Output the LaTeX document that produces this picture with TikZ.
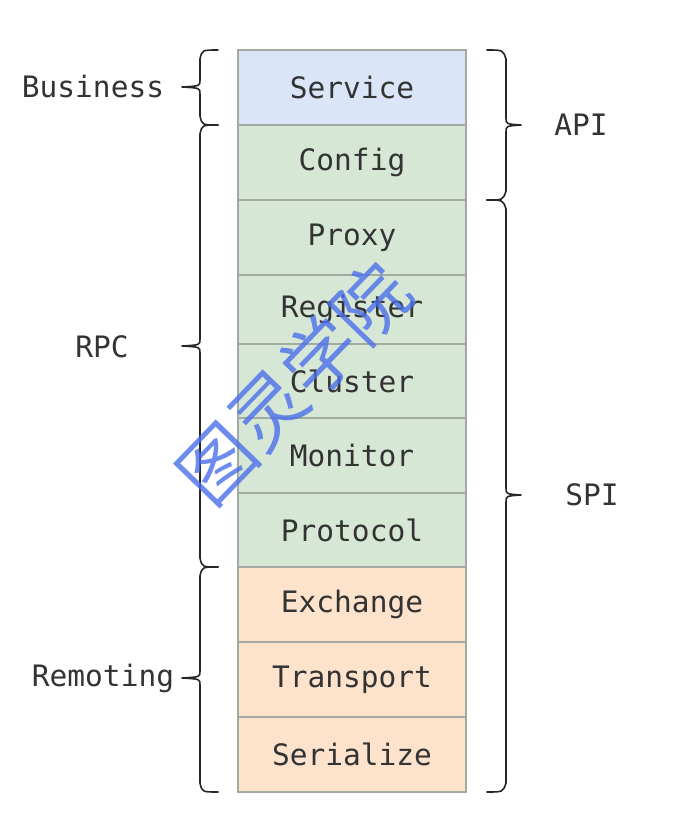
\documentclass[tikz,border=0pt]{standalone}
\usepackage{fontspec}
\setmonofont{DejaVu Sans Mono}
\newfontfamily\cjk{Noto Sans CJK SC}
\usetikzlibrary{calc}
\definecolor{txt}{HTML}{333333}
\definecolor{edge}{HTML}{A3AAA3}
\definecolor{bluefill}{HTML}{DAE6F8}
\definecolor{greenfill}{HTML}{D6E7D5}
\definecolor{orangefill}{HTML}{FDE2CC}
\definecolor{wm}{HTML}{4A6FEA}
\tikzset{
  layer/.style={draw=edge, line width=1.3pt, minimum width=228pt, inner sep=0pt, outer sep=0pt,
    text=txt, font=\ttfamily\fontsize{29.5}{32}\selectfont},
  lab/.style={text=txt, font=\ttfamily\fontsize{29.5}{32}\selectfont, inner sep=0pt},
  bracepath/.style={draw=black!85, line width=1.6pt, line cap=round, line join=round},
}
\begin{document}
\begin{tikzpicture}[x=1pt, y=-1pt]
\useasboundingbox (0,0) rectangle (678,824);
% layers
\node[layer, fill=bluefill, minimum height=75pt] (service) at (352,87.5) {Service};
\node[layer, fill=greenfill, minimum height=75pt] (config) at (352,162.5) {Config};
\node[layer, fill=greenfill, minimum height=75pt] (proxy) at (352,237.5) {Proxy};
\node[layer, fill=greenfill, minimum height=69pt] (register) at (352,309.5) {Register};
\node[layer, fill=greenfill, minimum height=74pt] (cluster) at (352,381) {Cluster};
\node[layer, fill=greenfill, minimum height=75pt] (monitor) at (352,455.5) {Monitor};
\node[layer, fill=greenfill, minimum height=74pt] (protocol) at (352,530) {Protocol};
\node[layer, fill=orangefill, minimum height=75pt] (exchange) at (352,604.5) {Exchange};
\node[layer, fill=orangefill, minimum height=75pt] (transport) at (352,679.5) {Transport};
\node[layer, fill=orangefill, minimum height=75pt] (serialize) at (352,754.5) {Serialize};
% labels
\node[lab] (business) at (93,87) {Business};
\node[lab] (rpc) at (102,347) {RPC};
\node[lab] (remoting) at (103,678) {Remoting};
\node[lab] (api) at (581,125) {API};
\node[lab] (spi) at (592,495) {SPI};
% left braces: ends at x=218, spine x=200, tip x=182
\foreach \t/\b/\m/\n in {service/service/87/bbus, config/protocol/346/brpc, exchange/serialize/678/brem}{
  \coordinate (\n-t) at ($(\t.north west)+(-20,0)$);
  \coordinate (\n-b) at ($(\b.south west)+(-20,0)$);
  \coordinate (\n-tip) at (182,\m);
  \path[bracepath] (\n-t) .. controls ($(\n-t)+(-16,0)$) .. ($(\n-t)+(-18,9)$)
    -- (200,\m-7) .. controls (200,\m-1) .. (\n-tip)
    .. controls (200,\m+1) .. (200,\m+7)
    -- ($(\n-b)+(-18,-9)$) .. controls ($(\n-b)+(-16,0)$) .. (\n-b);
}
% right braces: ends at x=487, spine x=506, tip x=521
\foreach \t/\b/\m/\n in {service/config/125/bapi, proxy/serialize/495/bspi}{
  \coordinate (\n-t) at ($(\t.north east)+(21,0)$);
  \coordinate (\n-b) at ($(\b.south east)+(21,0)$);
  \coordinate (\n-tip) at (521,\m);
  \path[bracepath] (\n-t) .. controls ($(\n-t)+(16,0)$) .. ($(\n-t)+(19,9)$)
    -- (506,\m-7) .. controls (506,\m-1) .. (\n-tip)
    .. controls (506,\m+1) .. (506,\m+7)
    -- ($(\n-b)+(19,-9)$) .. controls ($(\n-b)+(16,0)$) .. (\n-b);
}
% watermark
\node[text=wm, opacity=0.8, rotate=46, inner sep=0pt, font=\cjk\fontsize{74}{80}\selectfont] (watermark) at (294,383) {图灵学院};
\end{tikzpicture}
\end{document}
